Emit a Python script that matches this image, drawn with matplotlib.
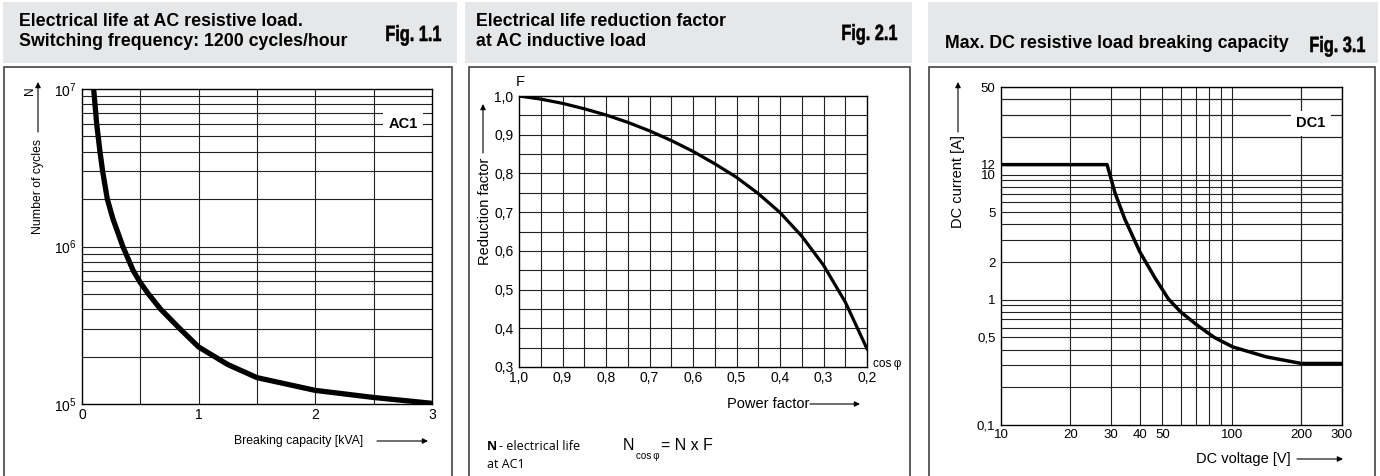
import matplotlib
matplotlib.use('Agg')
import matplotlib.pyplot as plt
import matplotlib.patches as mpatches
from matplotlib.font_manager import FontProperties
from matplotlib.textpath import TextPath
from matplotlib.transforms import Affine2D, IdentityTransform
from matplotlib.ticker import FixedLocator, FixedFormatter, NullLocator

plt.rcParams['font.family'] = ['Liberation Sans', 'DejaVu Sans']
plt.rcParams['mathtext.default'] = 'regular'

W, H = 1380, 476

# Fig. 1.1 - electrical life at AC resistive load
kva = [0.10, 0.126, 0.154, 0.177, 0.217, 0.265, 0.35, 0.44, 0.50, 0.569, 0.674, 0.84, 1.0, 1.25, 1.5, 2.0, 2.5, 3.0]
cycles = [1e7, 6e6, 4e6, 3e6, 2e6, 1.5e6, 1e6, 7e5, 5.9e5, 5e5, 4e5, 3e5, 2.3e5, 1.78e5, 1.47e5, 1.22e5, 1.1e5, 1.01e5]

# Fig. 2.1 - reduction factor vs power factor
cos_phi = [1.0, 0.95, 0.9, 0.85, 0.8, 0.75, 0.7, 0.65, 0.6, 0.55, 0.5, 0.45, 0.4, 0.35, 0.3, 0.25, 0.2]
factor = [1.0, 0.992, 0.981, 0.967, 0.951, 0.932, 0.910, 0.885, 0.857, 0.825, 0.790, 0.748, 0.699, 0.638, 0.563, 0.468, 0.347]

# Fig. 3.1 - DC breaking capacity
dc_volts = [10, 28.8, 31.2, 34.4, 40, 46.4, 53, 60, 70.5, 84, 101, 141, 200, 300]
dc_amps = [12, 12, 7.1, 4.4, 2.4, 1.5, 1.02, 0.80, 0.63, 0.5, 0.42, 0.35, 0.31, 0.31]

titles = [['Electrical life at AC resistive load.', 'Switching frequency: 1200 cycles/hour'],
          ['Electrical life reduction factor', 'at AC inductive load'],
          ['Max. DC resistive load breaking capacity']]
fig_labels = ['Fig. 1.1', 'Fig. 2.1', 'Fig. 3.1']


def fx(x):
    return x / W


def fy(y):
    return 1 - y / H


def axes_px(fig, x0, y0, x1, y1):
    return fig.add_axes([fx(x0), fy(y1), (x1 - x0) / W, (y1 - y0) / H])


def arrow(fig, x0, y0, x1, y1):
    fig.add_artist(mpatches.FancyArrowPatch((fx(x0), fy(y0)), (fx(x1), fy(y1)),
                   transform=fig.transFigure, arrowstyle='-|>', mutation_scale=8,
                   lw=0.8, color='black', shrinkA=0, shrinkB=0))


def ftext(fig, x, y, s, **kw):
    kw.setdefault('va', 'center')
    fig.text(fx(x), fy(y), s, **kw)


def condensed_text(fig, x_right, y_base, s, size=22, squeeze=0.74):
    # bold condensed "Fig." label: squeeze a bold text path horizontally
    path = TextPath((0, 0), s, size=size, prop=FontProperties(family='Liberation Sans', weight='bold'))
    width = path.get_extents().x1 * squeeze
    tr = Affine2D().scale(squeeze, 1).translate(x_right - width, H - y_base) + IdentityTransform()
    fig.add_artist(mpatches.PathPatch(path, transform=tr, facecolor='black',
                                      edgecolor='black', lw=0.4))


def style_axes(ax, grid_x, grid_y, fs):
    # draw the chart paper grid by hand so every line shows
    for v in grid_x:
        ax.axvline(v, color='#222222', lw=0.8, zorder=0.5)
    for v in grid_y:
        ax.axhline(v, color='#222222', lw=0.8, zorder=0.5)
    ax.xaxis.set_minor_locator(NullLocator())
    ax.yaxis.set_minor_locator(NullLocator())
    ax.tick_params(which='both', length=0, labelsize=fs)
    ax.tick_params(axis='y', pad=4)
    ax.tick_params(axis='x', pad=3)
    for s in ax.spines.values():
        s.set_linewidth(1.0)
        s.set_color('black')


fig = plt.figure(figsize=(W / 100, H / 100), dpi=100)

# grey header bands and panel frames
for x0, x1 in [(3, 457), (465, 912), (928, 1378)]:
    fig.add_artist(mpatches.Rectangle((fx(x0), fy(63)), (x1 - x0) / W, 61 / H,
                   transform=fig.transFigure, facecolor='#e6e7e8', edgecolor='none'))
for x0, x1 in [(4, 452), (469, 910), (929, 1375)]:
    fig.add_artist(mpatches.Rectangle((fx(x0), fy(490)), (x1 - x0) / W, (490 - 67) / H,
                   transform=fig.transFigure, fill=False, lw=1.1, edgecolor='#333333'))

# header texts
ftext(fig, 19, 22, titles[0][0], fontsize=12.8, fontweight='bold')
ftext(fig, 19, 42, titles[0][1], fontsize=12.8, fontweight='bold')
ftext(fig, 476, 22, titles[1][0], fontsize=12.8, fontweight='bold')
ftext(fig, 476, 42, titles[1][1], fontsize=12.8, fontweight='bold')
ftext(fig, 945, 44, titles[2][0], fontsize=12.8, fontweight='bold')
for x, y, s in [(441, 41, fig_labels[0]), (897, 40, fig_labels[1]), (1365, 52, fig_labels[2])]:
    condensed_text(fig, x, y, s)

# ---- Fig. 1.1 ----
ax1 = axes_px(fig, 82, 89, 432, 404)
ax1.plot(kva, cycles, color='black', lw=3.8, solid_capstyle='butt')
ax1.set_yscale('log')
ax1.set_xlim(0, 3)
ax1.set_ylim(1e5, 1e7)
ax1.xaxis.set_major_locator(FixedLocator([0, 1, 2, 3]))
ax1.xaxis.set_major_formatter(FixedFormatter(['0', '1', '2', '3']))
ax1.yaxis.set_major_locator(FixedLocator([1e5, 1e6, 1e7]))
ax1.yaxis.set_major_formatter(FixedFormatter(['$10^5$', '$10^6$', '$10^7$']))
style_axes(ax1, [0.5, 1, 1.5, 2, 2.5],
           [m * 10 ** e for e in (5, 6) for m in range(2, 10)] + [1e6], 10)
ax1.text(2.75, 6e6, 'AC1', fontsize=10.5, fontweight='bold', ha='center', va='center',
         bbox=dict(facecolor='white', edgecolor='none', pad=4))
ftext(fig, 30, 91, 'N', fontsize=8.5, rotation=90, ha='center')
ftext(fig, 38, 187, 'Number of cycles', fontsize=8.8, rotation=90, ha='center')
arrow(fig, 38, 132, 38, 82)
ftext(fig, 299, 441, 'Breaking capacity [kVA]', fontsize=8.8, ha='center')
arrow(fig, 377, 441, 428, 441)

# ---- Fig. 2.1 ----
ax2 = axes_px(fig, 519, 96, 867, 367)
ax2.plot(cos_phi, factor, color='black', lw=2.3)
ax2.set_xlim(1.0, 0.2)
ax2.set_ylim(0.3, 1.0)
x_ticks2 = [0.2, 0.3, 0.4, 0.5, 0.6, 0.7, 0.8, 0.9, 1.0]
y_ticks2 = [0.3, 0.4, 0.5, 0.6, 0.7, 0.8, 0.9, 1.0]
ax2.xaxis.set_major_locator(FixedLocator(x_ticks2))
ax2.xaxis.set_major_formatter(FixedFormatter([f'{t:.1f}'.replace('.', ',') for t in x_ticks2]))
ax2.yaxis.set_major_locator(FixedLocator(y_ticks2))
ax2.yaxis.set_major_formatter(FixedFormatter([f'{t:.1f}'.replace('.', ',') for t in y_ticks2]))
style_axes(ax2, [0.2 + 0.05 * i for i in range(1, 16)], [0.3 + 0.05 * i for i in range(1, 14)], 10)
ftext(fig, 520, 82, 'F', fontsize=10.5, ha='center')
ftext(fig, 485, 211, 'Reduction factor', fontsize=10.5, rotation=90, ha='center')
arrow(fig, 483, 153, 483, 104)
ftext(fig, 873, 364, 'cos\u2009φ', fontsize=8.5, ha='left')
ftext(fig, 768, 404, 'Power factor', fontsize=10.5, ha='center')
arrow(fig, 810, 404, 860, 404)
ftext(fig, 487, 447, 'N', fontsize=9, fontweight='bold', family=['Open Sans', 'DejaVu Sans'])
ftext(fig, 499, 447, '- electrical life', fontsize=9, family=['Open Sans', 'DejaVu Sans'])
ftext(fig, 487, 464, 'at AC1', fontsize=9, family=['Open Sans', 'DejaVu Sans'])
ftext(fig, 623, 446, 'N', fontsize=11.5)
ftext(fig, 636, 456, 'cos\u2009φ', fontsize=7)
ftext(fig, 661, 446, '= N x F', fontsize=11.5)

# ---- Fig. 3.1 ----
ax3 = axes_px(fig, 1001, 87, 1342, 425)
ax3.plot(dc_volts, dc_amps, color='black', lw=2.5)
ax3.set_xscale('log')
ax3.set_yscale('log')
ax3.set_xlim(10, 300)
ax3.set_ylim(0.1, 50)
x_ticks3 = [10, 20, 30, 40, 50, 100, 200, 300]
y_ticks3 = [0.1, 0.5, 1, 2, 5, 10, 12, 50]
ax3.xaxis.set_major_locator(FixedLocator(x_ticks3))
ax3.xaxis.set_major_formatter(FixedFormatter([str(v) for v in x_ticks3]))
ax3.yaxis.set_major_locator(FixedLocator(y_ticks3))
ax3.yaxis.set_major_formatter(FixedFormatter(['0,1', '0,5', '1', '2', '5', '10', '12', '50']))
style_axes(ax3, [m * 10 ** e for e in (1, 2) for m in range(1, 10)][1:] + [200],
           [m * 10.0 ** e for e in (-1, 0, 1) for m in range(1, 10)][1:] + [20, 30, 40], 9.5)
ax3.text(220, 25.6, 'DC1', fontsize=10.5, fontweight='bold', ha='center', va='center',
         bbox=dict(facecolor='white', edgecolor='none', pad=4))
ftext(fig, 958, 182, 'DC current [A]', fontsize=10.5, rotation=90, ha='center')
arrow(fig, 958, 132, 958, 82)
ftext(fig, 1243, 459, 'DC voltage [V]', fontsize=10.5, ha='center')
arrow(fig, 1297, 459, 1343, 459)

fig.savefig('out.png', dpi=100)
